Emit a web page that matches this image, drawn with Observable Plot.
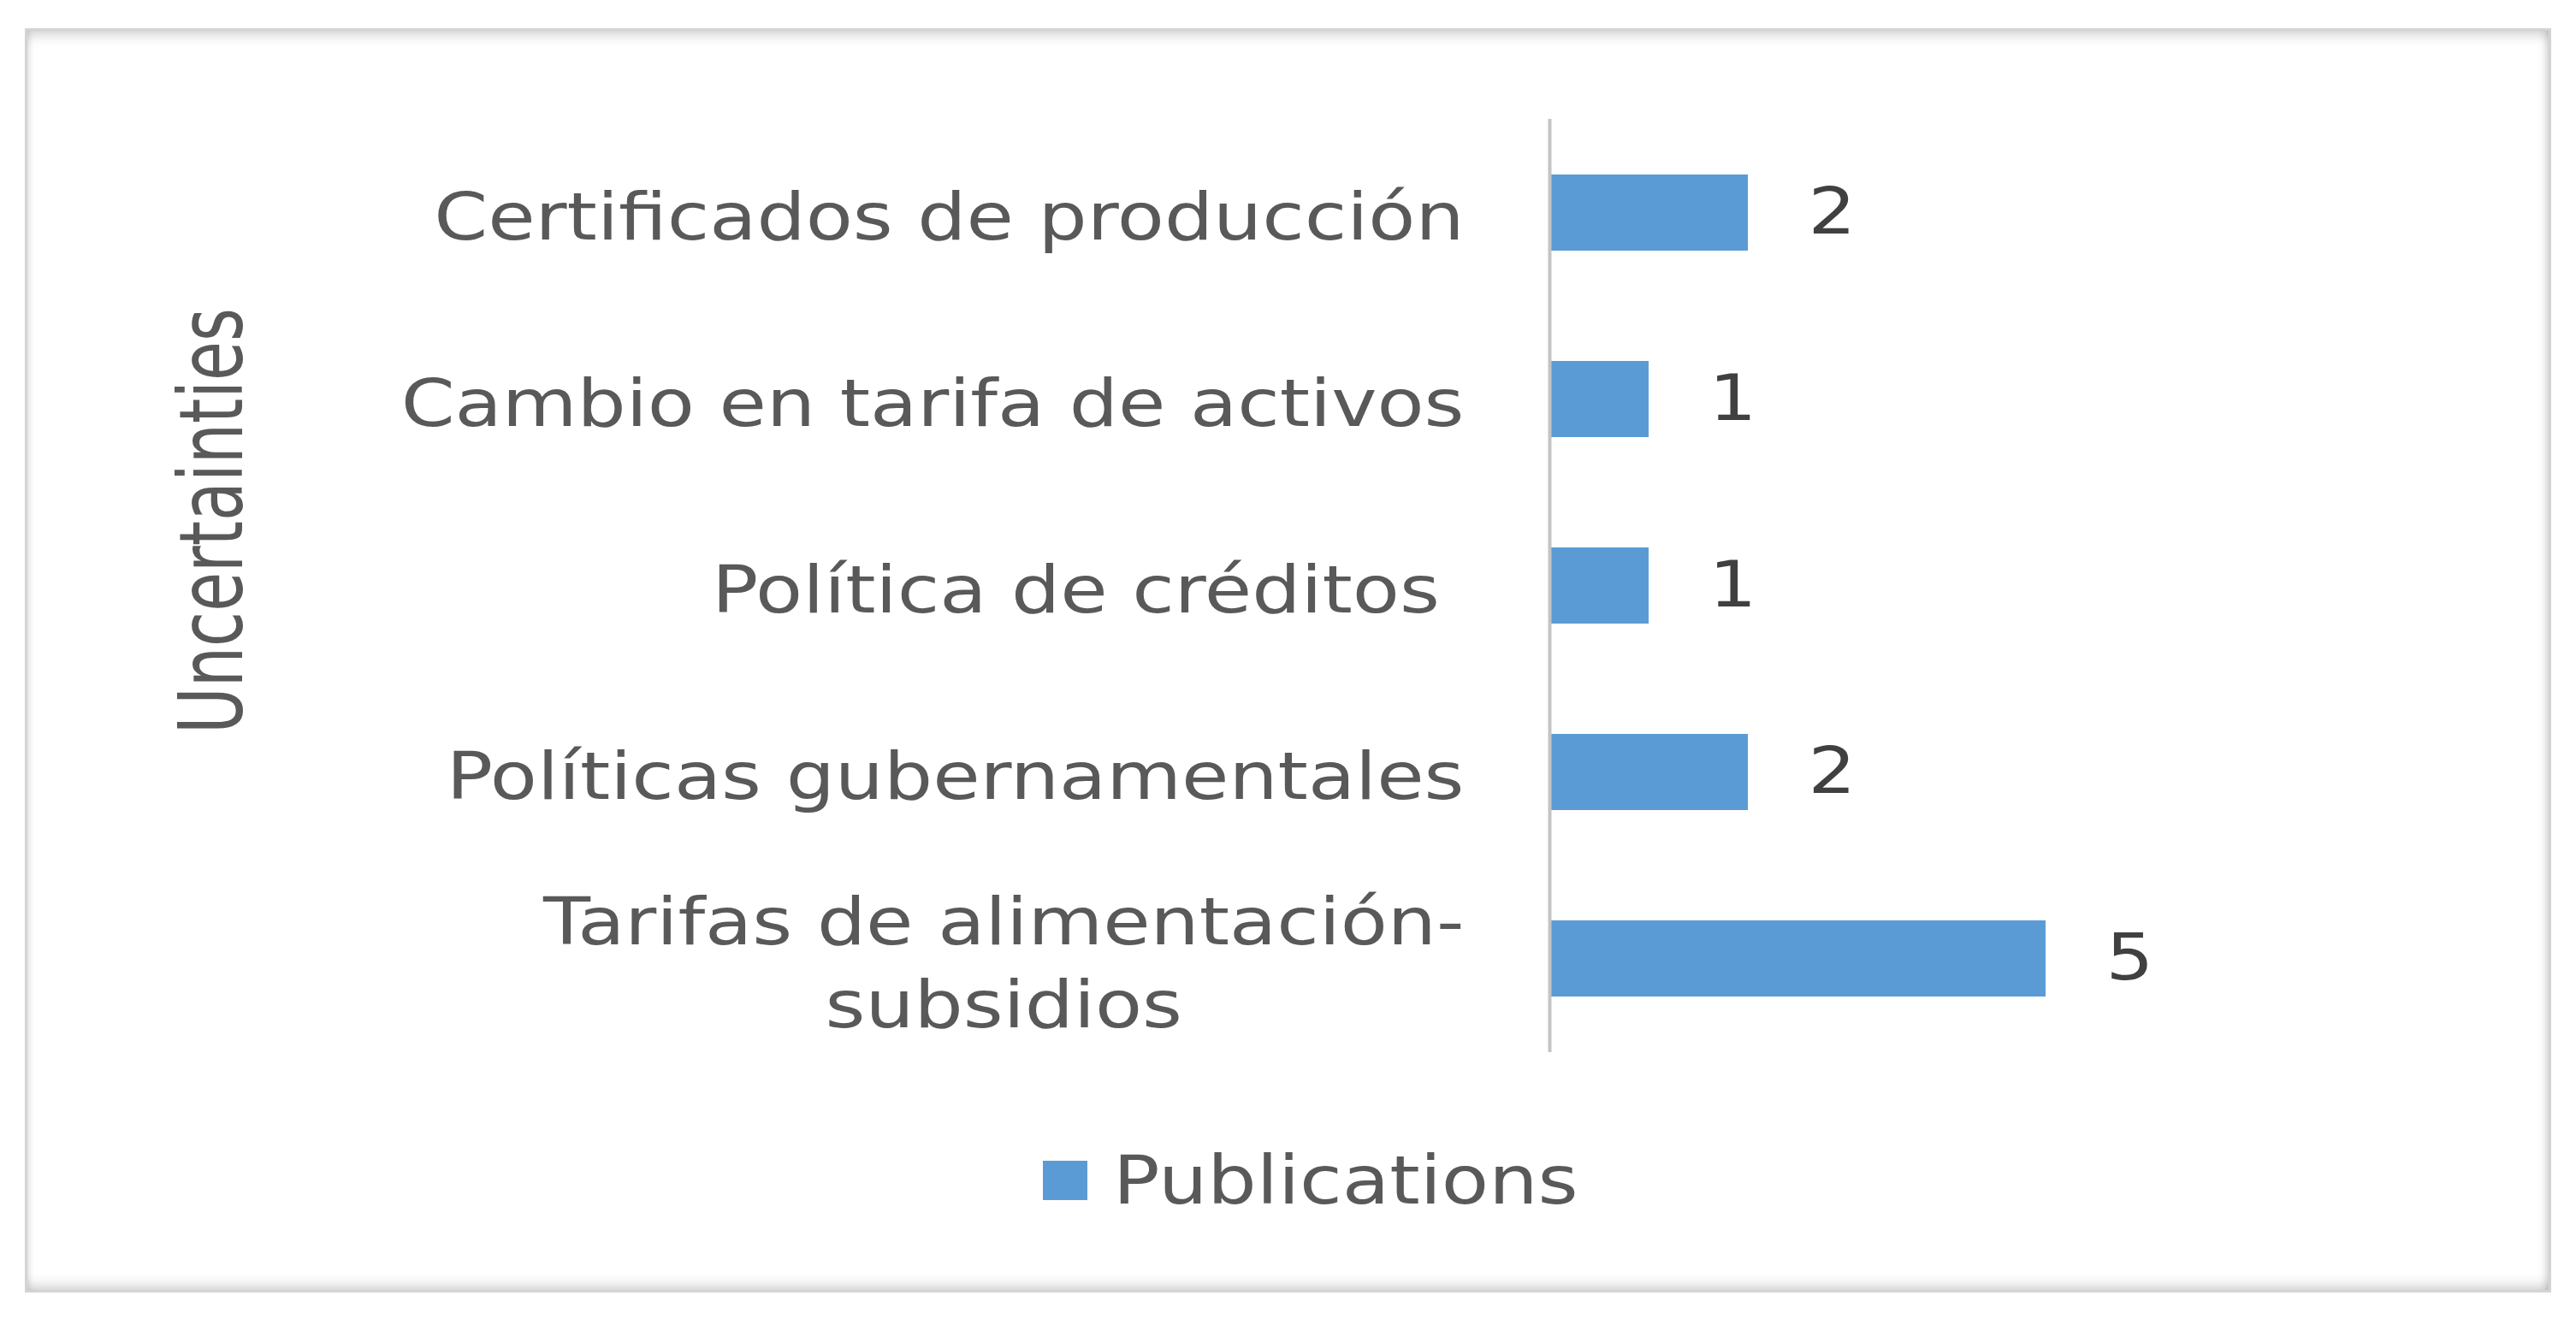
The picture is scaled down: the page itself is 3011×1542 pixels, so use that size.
<!DOCTYPE html>
<html>
<head>
<meta charset="utf-8">
<script src="https://cdn.jsdelivr.net/npm/d3@7"></script>
<script src="https://cdn.jsdelivr.net/npm/@observablehq/plot@0.6"></script>
<style>
  html, body { margin: 0; padding: 0; background: #ffffff; }
  body { width: 3011px; height: 1542px; position: relative; overflow: hidden; }
  #frame {
    position: absolute; left: 29px; top: 33px; width: 2947px; height: 1472px;
    border: 3px solid #d4d4d4; background: #ffffff;
    box-shadow: inset 0 12px 16px -8px rgba(0,0,0,0.2), inset 0 -12px 16px -8px rgba(0,0,0,0.2), inset 8px 0 10px -8px rgba(0,0,0,0.12), inset -10px 0 12px -8px rgba(0,0,0,0.16);
  }
  #chart { position: absolute; left: 0; top: 0; }
  #chart svg text { white-space: pre; }
  #legend {
    position: absolute; left: 18px; right: 0; top: 1299px;
    display: flex; justify-content: center; align-items: center;
    font-family: "DejaVu Sans", sans-serif; font-size: 78px; color: #595959;
  }
  #legend .sw { width: 52px; height: 46px; background: #5b9bd5; margin-right: 30px; }
  #legend .lt { display: inline-block; transform: scaleX(1.16); transform-origin: left center; margin-right: 40px; }
</style>
</head>
<body>
<div id="frame">
  <div id="chart"></div>
  <div id="legend"><span class="sw"></span><span class="lt">Publications</span></div>
</div>
<script>
const categories = [
  "Certificados de producción",
  "Cambio en tarifa de activos",
  "Política de créditos ",
  "Políticas gubernamentales",
  "Tarifas de alimentación-\nsubsidios"
];
const publications = [2, 1, 1, 2, 5];
const seriesName = "Publications";
const axisTitle = "Uncertainties";

const data = categories.map((c, i) => ({category: c, value: publications[i]}));

const W = 2947, H = 1250;
const X0 = 1779, UNIT = 116;
const STRETCH = 1.17; // the reference's text is drawn wider than it is tall

const chart = Plot.plot({
  width: W,
  height: H,
  marginLeft: X0,
  marginRight: W - X0 - 6 * UNIT,
  marginTop: 103,
  marginBottom: H - 1194,
  style: {fontFamily: "'DejaVu Sans', sans-serif", background: "transparent", overflow: "visible"},
  x: {domain: [0, 6], axis: null},
  y: {domain: categories, paddingInner: 0.59, paddingOuter: 0.295, axis: null},
  marks: [
    Plot.barX(data, {x: "value", y: "category", fill: "#5b9bd5"}),
    Plot.ruleX([0], {stroke: "#c4c4c4", strokeWidth: 4}),
    Plot.axisY({label: null, tickSize: 0, tickPadding: 100, fontSize: 77, fill: "#595959", lineHeight: 1.26, textAnchor: "end"}),
    Plot.text(data, {x: "value", y: "category", text: d => String(d.value), textAnchor: "start", dx: 70, fontSize: 75, fill: "#404040", className: "vlab"}),
    Plot.text([axisTitle], {frameAnchor: "left", textAnchor: "middle", lineAnchor: "middle", rotate: -90, dx: -1562, dy: -76, fontSize: 104, fill: "#595959", className: "ytitle"})
  ]
});
document.getElementById("chart").appendChild(chart);

// stretch a text element along its own writing direction, around its anchor point
function stretch(el, sx, extraShift = 0) {
  const t = el.getAttribute("transform") || "";
  el.setAttribute("transform", `${t} translate(${extraShift},0) scale(${sx},1)`);
}

// axis title: condensed to its drawn length
d3.select(chart).selectAll(".ytitle text").each(function() {
  const len = this.getComputedTextLength();
  stretch(this, 498 / len);
});

// value labels
d3.select(chart).selectAll(".vlab text").each(function() { stretch(this, STRETCH); });

// tick labels: wider, and multi-line labels centered on their widest line
d3.select(chart).selectAll("g[aria-label='y-axis tick label'] text").each(function() {
  const spans = this.querySelectorAll("tspan");
  if (spans.length > 1) {
    let w = 0;
    spans.forEach(s => { w = Math.max(w, s.getComputedTextLength()); });
    this.setAttribute("text-anchor", "middle");
    stretch(this, STRETCH, -w * STRETCH / 2);
  } else {
    stretch(this, STRETCH);
  }
});
</script>
</body>
</html>
